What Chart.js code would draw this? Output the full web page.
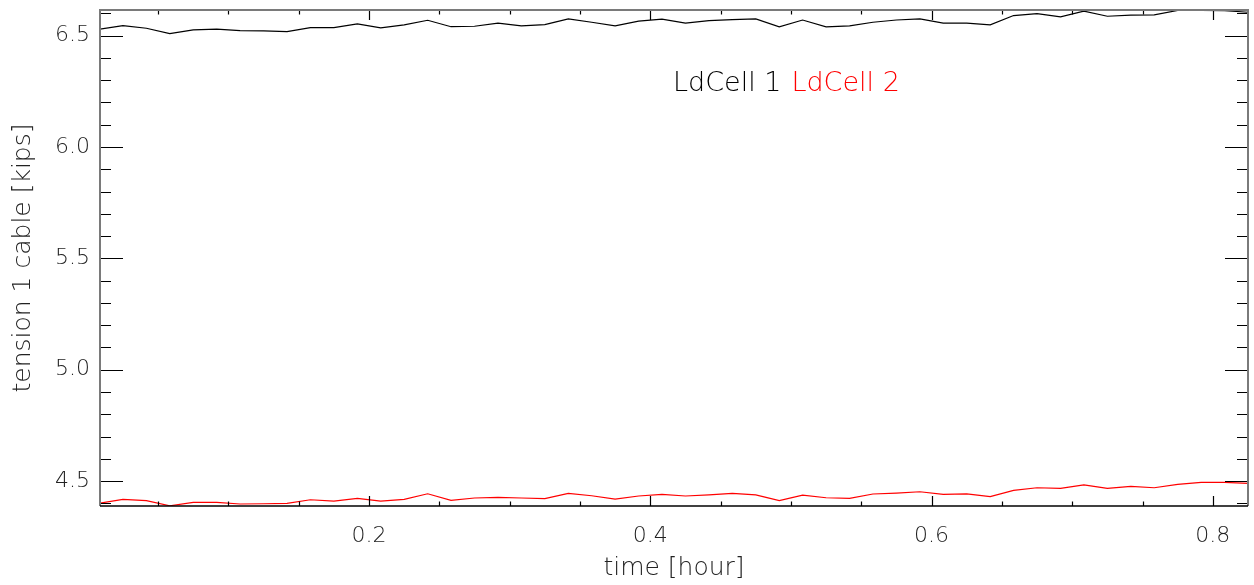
<!DOCTYPE html>
<html>
<head>
<meta charset="utf-8">
<script src="https://cdn.jsdelivr.net/npm/chart.js@4.4.1/dist/chart.umd.min.js"></script>
<style>
  body { margin: 0; background: #fff; }
  #wrap { width: 1254px; height: 585px; }
</style>
</head>
<body>
<div id="wrap"><canvas id="myChart" width="1254" height="585"></canvas></div>
<script>
// time in hours, one sample per minute
var timeValues = [0.0083,0.0250,0.0417,0.0583,0.0750,0.0917,0.1083,0.1250,0.1417,0.1583,
  0.1750,0.1917,0.2083,0.2250,0.2417,0.2583,0.2750,0.2917,0.3083,0.3250,
  0.3417,0.3583,0.3750,0.3917,0.4083,0.4250,0.4417,0.4583,0.4750,0.4917,
  0.5083,0.5250,0.5417,0.5583,0.5750,0.5917,0.6083,0.6250,0.6417,0.6583,
  0.6750,0.6917,0.7083,0.7250,0.7417,0.7583,0.7750,0.7917,0.8083,0.8250];

var ldCell1 = [6.529,6.545,6.533,6.509,6.526,6.529,6.522,6.521,6.518,6.536,
  6.536,6.553,6.535,6.548,6.569,6.540,6.542,6.556,6.544,6.549,
  6.575,6.560,6.544,6.565,6.574,6.556,6.567,6.572,6.575,6.539,
  6.570,6.539,6.544,6.560,6.570,6.575,6.556,6.556,6.548,6.590,
  6.599,6.584,6.610,6.587,6.592,6.593,6.613,6.613,6.612,6.605];

var ldCell2 = [4.400,4.418,4.412,4.389,4.404,4.404,4.397,4.398,4.400,4.416,
  4.410,4.422,4.410,4.418,4.443,4.413,4.424,4.427,4.424,4.421,
  4.445,4.434,4.419,4.433,4.440,4.433,4.438,4.445,4.438,4.412,
  4.437,4.425,4.422,4.442,4.446,4.452,4.440,4.442,4.430,4.458,
  4.470,4.467,4.483,4.467,4.476,4.470,4.485,4.494,4.494,4.490];

var xTickValues = [0.2, 0.4, 0.6, 0.8];
var yTickValues = [4.5, 5.0, 5.5, 6.0, 6.5];
var seriesNames = ["LdCell 1", "LdCell 2"];

var FONT = "'DejaVu Sans', sans-serif";

function pts(ys) {
  return ys.map(function(y, i) { return {x: timeValues[i], y: y}; });
}

// IDL style frame: box with inward major/minor ticks on all four sides
var frame = {
  id: 'frame',
  afterDatasetsDraw: function(chart) {
    var ctx = chart.ctx, a = chart.chartArea;
    var xs = chart.scales.x, ys = chart.scales.y;
    ctx.save();
    ctx.lineWidth = 1.2;
    ctx.strokeStyle = '#000';
    ctx.beginPath();
    // x ticks, minor every 0.05
    for (var v = 0.05; v < xs.max; v += 0.05) {
      if (v < xs.min) continue;
      var px = Math.round(xs.getPixelForValue(v)) + 0.5;
      var major = Math.abs(v / 0.2 - Math.round(v / 0.2)) < 1e-6;
      var len = major ? 10 : 4.5;
      ctx.moveTo(px, a.bottom); ctx.lineTo(px, a.bottom - len);
      ctx.moveTo(px, a.top); ctx.lineTo(px, a.top + len);
    }
    // y ticks, minor every 0.1
    for (var k = 44; k <= 66; k++) {
      var val = k / 10;
      if (val < ys.min || val > ys.max) continue;
      var py = Math.round(ys.getPixelForValue(val)) + 0.5;
      var len2 = (k % 5 === 0) ? 23 : 11;
      ctx.moveTo(a.left, py); ctx.lineTo(a.left + len2, py);
      ctx.moveTo(a.right, py); ctx.lineTo(a.right - len2, py);
    }
    ctx.stroke();
    // box
    ctx.lineWidth = 2;
    ctx.strokeStyle = '#7a7a7a';
    ctx.beginPath();
    ctx.moveTo(a.left, a.bottom); ctx.lineTo(a.left, a.top);
    ctx.lineTo(a.right, a.top); ctx.lineTo(a.right, a.bottom);
    ctx.stroke();
    ctx.strokeStyle = '#000';
    ctx.lineWidth = 1.5;
    ctx.beginPath();
    ctx.moveTo(a.left, a.bottom); ctx.lineTo(a.right, a.bottom);
    ctx.stroke();
    ctx.restore();
  }
};

// inline legend inside the plot
var inlineLegend = {
  id: 'inlineLegend',
  afterDraw: function(chart) {
    var ctx = chart.ctx;
    ctx.save();
    ctx.font = '300 27px ' + FONT;
    ctx.textBaseline = 'middle';
    var x = 673;
    chart.data.datasets.forEach(function(ds) {
      ctx.fillStyle = ds.borderColor;
      ctx.fillText(ds.label, x, 84);
      x += ctx.measureText(ds.label).width + 10;
    });
    ctx.restore();
  }
};

var myChart = new Chart("myChart", {
  type: "line",
  data: {
    datasets: [{
      label: seriesNames[0],
      data: pts(ldCell1),
      borderColor: "#000000",
      borderWidth: 1.2,
      pointRadius: 0,
      fill: false,
      tension: 0
    }, {
      label: seriesNames[1],
      data: pts(ldCell2),
      borderColor: "#ff0000",
      borderWidth: 1.2,
      pointRadius: 0,
      fill: false,
      tension: 0
    }]
  },
  options: {
    responsive: false,
    animation: false,
    layout: { padding: { top: 10, right: 6, left: 0, bottom: 0 } },
    plugins: { legend: { display: false }, tooltip: { enabled: false } },
    scales: {
      x: {
        type: "linear",
        min: 0.0087,
        max: 0.825,
        grid: { display: false, drawTicks: false },
        border: { display: false },
        afterBuildTicks: function(s) { s.ticks = xTickValues.map(function(v) { return {value: v}; }); },
        afterFit: function(s) { s.height = 79; s.paddingLeft = 0; s.paddingRight = 0; },
        ticks: {
          padding: 17,
          maxRotation: 0,
          color: "#222",
          font: { family: FONT, size: 22, weight: 300 },
          callback: function(v) { return v.toFixed(1); }
        },
        title: {
          display: true,
          text: "time [hour]",
          color: "#222",
          padding: { top: 0, bottom: 2 },
          font: { family: FONT, size: 25, weight: 300 }
        }
      },
      y: {
        min: 4.388,
        max: 6.615,
        grid: { display: false, drawTicks: false },
        border: { display: false },
        afterBuildTicks: function(s) { s.ticks = yTickValues.map(function(v) { return {value: v}; }); },
        afterFit: function(s) { s.width = 100; s.paddingTop = 0; s.paddingBottom = 0; },
        ticks: {
          padding: 10,
          color: "#222",
          font: { family: FONT, size: 22, weight: 300 },
          callback: function(v) { return v.toFixed(1); }
        },
        title: {
          display: true,
          text: "tension 1 cable [kips]",
          color: "#222",
          padding: { top: 8, bottom: 0 },
          font: { family: FONT, size: 25, weight: 300 }
        }
      }
    }
  },
  plugins: [frame, inlineLegend]
});

console.log("dom ok");
</script>
</body>
</html>
